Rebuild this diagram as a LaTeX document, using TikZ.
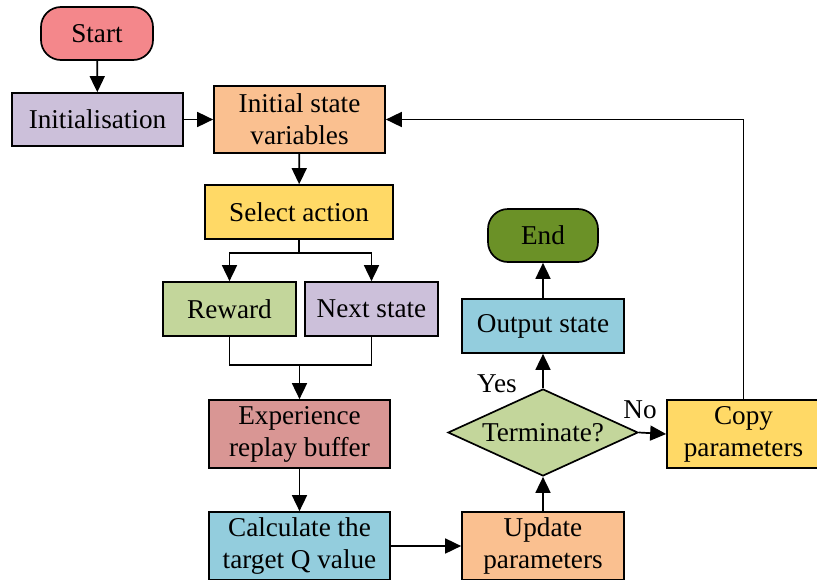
\documentclass[tikz,border=0pt]{standalone}
\usepackage{fontspec}
\setmainfont{Liberation Serif}
\usetikzlibrary{shapes.geometric,arrows.meta}
\definecolor{cpink}{HTML}{F4878B}
\definecolor{clav}{HTML}{CCC0DA}
\definecolor{cpeach}{HTML}{FAC090}
\definecolor{cyell}{HTML}{FFD966}
\definecolor{cgreen}{HTML}{C3D69B}
\definecolor{crose}{HTML}{D99694}
\definecolor{cblue}{HTML}{93CDDD}
\definecolor{colive}{HTML}{6B9127}
\begin{document}
\begin{tikzpicture}[x=1pt,y=-1pt,
  font=\fontsize{27.2}{32}\selectfont,
  box/.style={draw=black, line width=1.7pt, align=center, inner sep=0pt},
  term/.style={box, rounded corners=20pt},
  dec/.style={draw=black, line width=1.7pt, diamond, aspect=2.18, inner sep=0pt,
              minimum width=190pt, minimum height=87pt},
  arr/.style={line width=1.7pt, -{Triangle[length=16pt,width=15pt]}},
  ln/.style={line width=1.7pt}]
\useasboundingbox (0,0) rectangle (817,579);

% terminals
\node[term, fill=cpink, minimum width=112pt, minimum height=53pt] (start) at (97,33.5) {Start};
\node[term, fill=colive, minimum width=110pt, minimum height=53pt] (end) at (543,235.5) {End};

% process boxes
\node[box, fill=clav, minimum width=171pt, minimum height=53pt] (init) at (97.5,119.5) {Initialisation};
\node[box, fill=cpeach, minimum width=171pt, minimum height=67pt] (isv) at (299.5,119.5) {Initial state\\variables};
\node[box, fill=cyell, minimum width=188pt, minimum height=54pt] (sel) at (299,212) {Select action};
\node[box, fill=cgreen, minimum width=133pt, minimum height=54pt] (rew) at (229.5,309) {Reward};
\node[box, fill=clav, minimum width=133pt, minimum height=54pt] (nxt) at (371.5,309) {Next state};
\node[box, fill=crose, minimum width=181pt, minimum height=68pt] (exp) at (299.5,434) {Experience\\replay buffer};
\node[box, fill=cblue, minimum width=181pt, minimum height=68pt] (calc) at (299.5,546) {Calculate the\\target Q value};
\node[box, fill=cpeach, minimum width=162pt, minimum height=68pt] (upd) at (543,546) {Update\\parameters};
\node[dec, fill=cgreen] (tm) at (543,432.5) {Terminate?};
\node[box, fill=cblue, minimum width=162pt, minimum height=54pt] (out) at (543,326) {Output state};
\node[box, fill=cyell, minimum width=153pt, minimum height=68pt] (copy) at (743.5,434) {Copy\\parameters};

% labels
\node (yes) at (497,384) {Yes};
\node (no) at (640,410) {No};

% junction points
\coordinate (split) at (299,253);
\coordinate (merge) at (299.5,365);

% connectors
\draw[arr] (start) -- (init);
\draw[arr] (init) -- (isv);
\draw[arr] (isv) -- (sel);
\draw[ln] (sel.south) -- (split);
\draw[arr] (split) -| (rew.north);
\draw[arr] (split) -| (nxt.north);
\draw[ln] (rew.south) |- (merge) -| (nxt.south);
\draw[arr] (merge) -- (exp.north);
\draw[arr] (exp) -- (calc);
\draw[arr] (calc) -- (upd);
\draw[arr] (upd) -- (tm.south);
\draw[arr] (tm.north) -- (out);
\draw[arr] (out) -- (end);
\draw[arr] (tm.east) -- (copy.west);
\draw[arr] (copy.north) |- (isv.east);
\end{tikzpicture}
\end{document}
